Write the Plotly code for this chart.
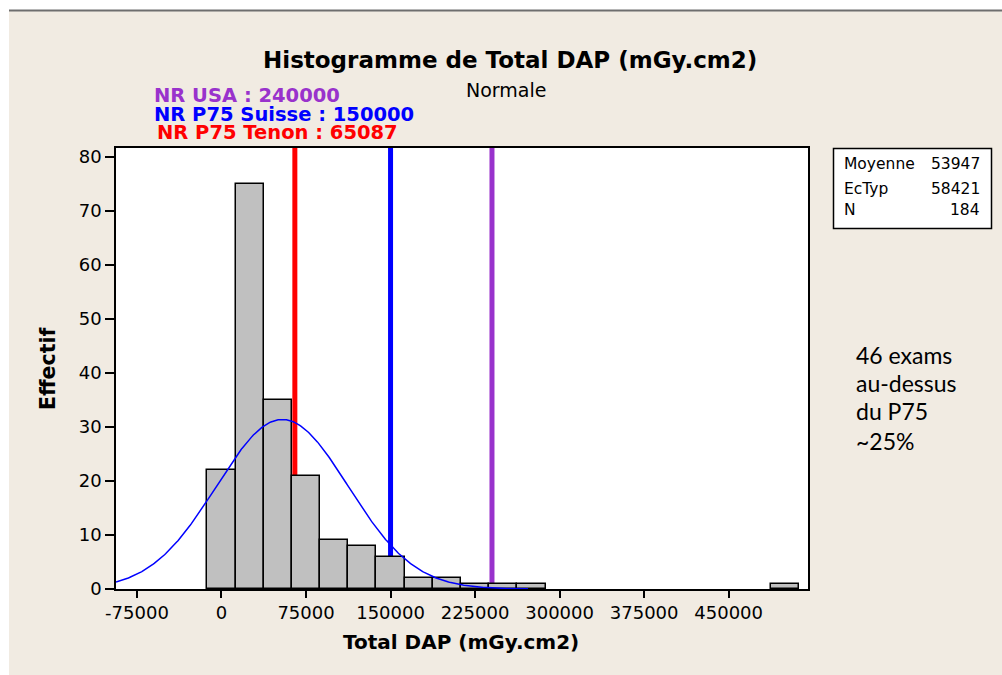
import numpy as np
import plotly.graph_objects as go

# ---- data ----
bin_centers = [0, 25000, 50000, 75000, 100000, 125000, 150000, 175000, 200000,
               225000, 250000, 275000, 500000]
counts = [22, 75, 35, 21, 9, 8, 6, 2, 2, 1, 1, 1, 1]
bin_width = 25000
mean_val = 53947
sd_val = 58421
n_val = 184
ref_levels = [65087, 150000, 240000]
ref_colors = ["#FF0000", "#0000FF", "#9932CC"]
ref_labels = ["NR P75 Tenon : 65087", "NR P75 Suisse : 150000", "NR USA : 240000"]
x_tickvals = [-75000, 0, 75000, 150000, 225000, 300000, 375000, 450000]
x_ticktext = ["-75000", "0", "75000", "150000", "225000", "300000", "375000", "450000"]
y_tickvals = [0, 10, 20, 30, 40, 50, 60, 70, 80]
stats_labels = ["Moyenne", "EcTyp", "N"]
stats_values = ["53947", "58421", "184"]
side_note = ["46 exams", "au-dessus", "du P75", "~25%"]

# ---- geometry (pixels) ----
W, H = 1002, 675
L, R, T, B = 116, 808, 148, 589
XMIN, XMAX = -93600, 520400
YMIN, YMAX = 0, 81.7


def px(p):
    return (p - L) / (R - L)


def py(q):
    return (B - q) / (B - T)


BEIGE = "#F1EBE2"
FONT = "DejaVu Sans"

fig = go.Figure()

fig.add_trace(go.Bar(
    x=bin_centers, y=counts, width=bin_width,
    marker=dict(color="#C0C0C0", line=dict(color="black", width=1.5)),
    showlegend=False, hoverinfo="x+y",
))

# fitted normal curve from displayed statistics
xc = np.linspace(XMIN, 272000, 400)
yc = n_val * bin_width / (sd_val * np.sqrt(2 * np.pi)) * np.exp(-0.5 * ((xc - mean_val) / sd_val) ** 2)
fig.add_trace(go.Scatter(x=xc, y=yc, mode="lines", line=dict(color="#0000FF", width=1.5),
                         showlegend=False, hoverinfo="skip"))

shapes = []
for lv, col in zip(ref_levels, ref_colors):
    shapes.append(dict(type="line", xref="x", yref="y domain", x0=lv, x1=lv, y0=0, y1=1,
                       line=dict(color=col, width=5), layer="below"))

# outer white strips & gray top line
shapes.append(dict(type="rect", xref="paper", yref="paper", x0=px(-5), x1=px(9), y0=py(H + 5), y1=py(-5),
                   fillcolor="white", line=dict(width=0), layer="below"))
shapes.append(dict(type="rect", xref="paper", yref="paper", x0=px(-5), x1=px(W + 5), y0=py(10), y1=py(-5),
                   fillcolor="white", line=dict(width=0), layer="below"))
shapes.append(dict(type="line", xref="paper", yref="paper", x0=px(9), x1=px(W + 5), y0=py(10.5), y1=py(10.5),
                   line=dict(color="#6E6E6E", width=2), layer="below"))
# stats box
shapes.append(dict(type="rect", xref="paper", yref="paper", x0=px(833.5), x1=px(991.5), y0=py(228.5), y1=py(148.5),
                   fillcolor="white", line=dict(color="black", width=1.5), layer="below"))

annotations = []
annotations.append(dict(text="<b>Histogramme de Total DAP (mGy.cm2)</b>", x=px(510), y=py(60),
                        xref="paper", yref="paper", showarrow=False, xanchor="center", yanchor="middle",
                        font=dict(family=FONT, size=23, color="black")))
annotations.append(dict(text="Normale", x=px(506), y=py(90),
                        xref="paper", yref="paper", showarrow=False, xanchor="center", yanchor="middle",
                        font=dict(family=FONT, size=19, color="black")))
ref_y = [133, 114, 95]
ref_x = [155, 152, 152]
for lab, col, yy, xx in zip(ref_labels, ref_colors, ref_y, ref_x):
    annotations.append(dict(text="<b>" + lab + "</b>", x=px(xx), y=py(yy),
                            xref="paper", yref="paper", showarrow=False, xanchor="left", yanchor="middle",
                            font=dict(family=FONT, size=19.5, color=col)))
stat_y = [164, 189, 210]
for lab, val, yy in zip(stats_labels, stats_values, stat_y):
    annotations.append(dict(text=lab, x=px(842), y=py(yy), xref="paper", yref="paper", showarrow=False,
                            xanchor="left", yanchor="middle", font=dict(family=FONT, size=15.5, color="black")))
    annotations.append(dict(text=val, x=px(982), y=py(yy), xref="paper", yref="paper", showarrow=False,
                            xanchor="right", yanchor="middle", font=dict(family=FONT, size=15.5, color="black")))
note_y = [355, 383, 411, 441]
for t, yy in zip(side_note, note_y):
    annotations.append(dict(text=t, x=px(854), y=py(yy), xref="paper", yref="paper", showarrow=False,
                            xanchor="left", yanchor="middle", font=dict(family="Lato", size=23, color="black")))
annotations.append(dict(text="<b>Effectif</b>", x=px(48), y=py(369), xref="paper", yref="paper",
                        showarrow=False, textangle=-90, xanchor="center", yanchor="middle",
                        font=dict(family=FONT, size=20.5, color="black")))
annotations.append(dict(text="<b>Total DAP (mGy.cm2)</b>", x=px(461), y=py(642), xref="paper", yref="paper",
                        showarrow=False, xanchor="center", yanchor="middle",
                        font=dict(family=FONT, size=20, color="black")))

fig.update_layout(
    width=W, height=H,
    margin=dict(l=L, r=W - R, t=T, b=H - B, pad=0),
    paper_bgcolor=BEIGE, plot_bgcolor="white",
    shapes=shapes, annotations=annotations,
    bargap=0,
    font=dict(family=FONT, size=18, color="black"),
    xaxis=dict(range=[XMIN, XMAX], tickvals=x_tickvals, ticktext=x_ticktext,
               showgrid=False, zeroline=False, showline=True, linecolor="black", linewidth=1.5,
               mirror=True, ticks="outside", ticklen=7, tickwidth=1.5, tickcolor="black",
               tickfont=dict(family=FONT, size=18)),
    yaxis=dict(range=[YMIN, YMAX], tickvals=y_tickvals,
               showgrid=False, zeroline=False, showline=True, linecolor="black", linewidth=1.5,
               mirror=True, ticks="outside", ticklen=9, tickwidth=1.5, tickcolor="black",
               tickfont=dict(family=FONT, size=18)),
)

fig.write_html("out.html", config={"displayModeBar": False},
               post_script="document.body.style.margin='0';document.body.style.overflow='hidden';")
